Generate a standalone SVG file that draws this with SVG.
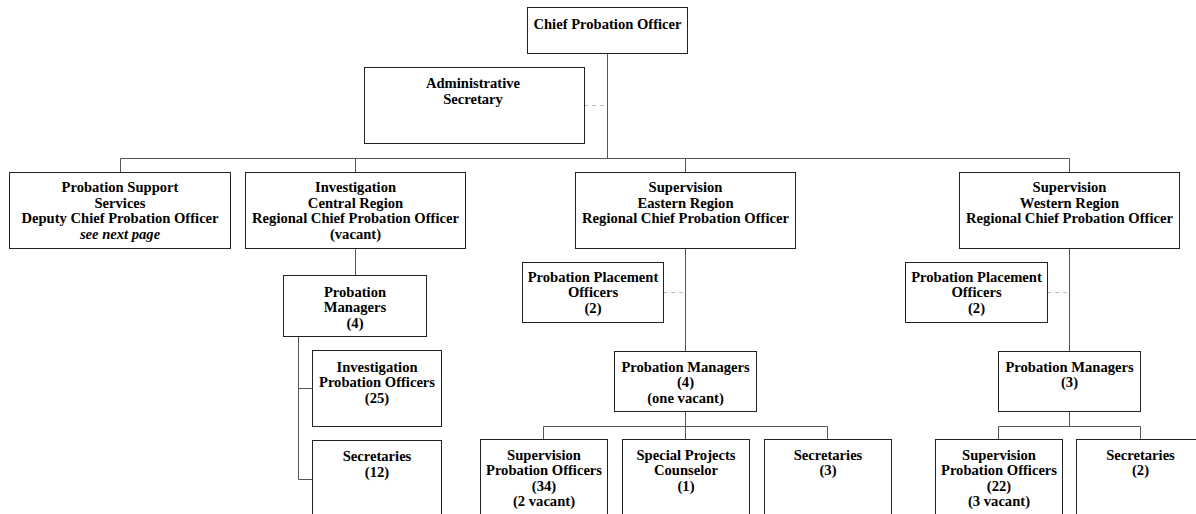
<svg xmlns="http://www.w3.org/2000/svg" width="1196" height="514" viewBox="0 0 1196 514">
  <style>
    .box { fill: #ffffff; stroke: #222222; stroke-width: 1; }
    .lbl { font-family: 'Liberation Serif', 'Times New Roman', Times, 'DejaVu Serif', serif; font-size: 14.6px; font-weight: bold; fill: #000000; text-anchor: middle; }
    .it { font-style: italic; }
    .ln { fill: none; stroke: #555555; stroke-width: 1; }
    .dash { fill: none; stroke: #bbbbbb; stroke-width: 1; stroke-dasharray: 4 4; }
  </style>
  <rect x="0" y="0" width="1196" height="514" fill="#ffffff"/>

  <!-- connectors -->
  <g id="connectors">
    <path class="ln" d="M607.5 53V158.5M120.5 158.5H1069.5M120.5 158.5V172M355.5 158.5V172M685.5 158.5V172M1069.5 158.5V172"/>
    <path class="ln" d="M355.5 248V275"/>
    <path class="ln" d="M298.5 336V479.5M298.5 388.5H312M298.5 479.5H312"/>
    <path class="ln" d="M685.5 248V351M685.5 411V426.5M543.5 426.5H827.5M543.5 426.5V439M685.5 426.5V439M827.5 426.5V439"/>
    <path class="ln" d="M1069.5 248V351M1069.5 411V426.5M998.5 426.5H1140.5M998.5 426.5V439M1140.5 426.5V439"/>
    <path class="dash" d="M584 105.5H607M663 292.5H685M1047 292.5H1069"/>
  </g>

  <g id="chief">
    <rect class="box" x="527.5" y="7.5" width="160" height="46"/>
    <text class="lbl" x="607.5" y="29">Chief Probation Officer</text>
  </g>

  <g id="admin-secretary">
    <rect class="box" x="364.5" y="67.5" width="220" height="76"/>
    <text class="lbl" x="473" y="88">Administrative</text>
    <text class="lbl" x="473" y="104">Secretary</text>
  </g>

  <g id="support-services">
    <rect class="box" x="9.5" y="172.5" width="221" height="76"/>
    <text class="lbl" x="120" y="192">Probation Support</text>
    <text class="lbl" x="120" y="207.5">Services</text>
    <text class="lbl" x="120" y="223">Deputy Chief Probation Officer</text>
    <text class="lbl it" x="120" y="238.5">see next page</text>
  </g>

  <g id="investigation-central">
    <rect class="box" x="245.5" y="172.5" width="220" height="76"/>
    <text class="lbl" x="355.5" y="192">Investigation</text>
    <text class="lbl" x="355.5" y="207.5">Central Region</text>
    <text class="lbl" x="355.5" y="223">Regional Chief Probation Officer</text>
    <text class="lbl" x="355.5" y="238.5">(vacant)</text>
  </g>

  <g id="supervision-eastern">
    <rect class="box" x="575.5" y="172.5" width="220" height="76"/>
    <text class="lbl" x="685.5" y="192">Supervision</text>
    <text class="lbl" x="685.5" y="207.5">Eastern Region</text>
    <text class="lbl" x="685.5" y="223">Regional Chief Probation Officer</text>
  </g>

  <g id="supervision-western">
    <rect class="box" x="959.5" y="172.5" width="220" height="76"/>
    <text class="lbl" x="1069.5" y="192">Supervision</text>
    <text class="lbl" x="1069.5" y="207.5">Western Region</text>
    <text class="lbl" x="1069.5" y="223">Regional Chief Probation Officer</text>
  </g>

  <g id="inv-managers">
    <rect class="box" x="283.5" y="275.5" width="143" height="61"/>
    <text class="lbl" x="355" y="297">Probation</text>
    <text class="lbl" x="355" y="312">Managers</text>
    <text class="lbl" x="355" y="327.5">(4)</text>
  </g>

  <g id="inv-officers">
    <rect class="box" x="312.5" y="350.5" width="129" height="76"/>
    <text class="lbl" x="377" y="372">Investigation</text>
    <text class="lbl" x="377" y="387">Probation Officers</text>
    <text class="lbl" x="377" y="402.5">(25)</text>
  </g>

  <g id="inv-secretaries">
    <rect class="box" x="312.5" y="440.5" width="129" height="90"/>
    <text class="lbl" x="377" y="461">Secretaries</text>
    <text class="lbl" x="377" y="476.5">(12)</text>
  </g>

  <g id="east-placement">
    <rect class="box" x="522.5" y="262.5" width="141" height="60"/>
    <text class="lbl" x="593" y="282">Probation Placement</text>
    <text class="lbl" x="593" y="297">Officers</text>
    <text class="lbl" x="593" y="312.5">(2)</text>
  </g>

  <g id="east-managers">
    <rect class="box" x="614.5" y="351.5" width="142" height="60"/>
    <text class="lbl" x="685.5" y="372">Probation Managers</text>
    <text class="lbl" x="685.5" y="387">(4)</text>
    <text class="lbl" x="685.5" y="402.5">(one vacant)</text>
  </g>

  <g id="east-officers">
    <rect class="box" x="480.5" y="439.5" width="127" height="90"/>
    <text class="lbl" x="544" y="460">Supervision</text>
    <text class="lbl" x="544" y="475">Probation Officers</text>
    <text class="lbl" x="544" y="491">(34)</text>
    <text class="lbl" x="544" y="506">(2 vacant)</text>
  </g>

  <g id="east-special-projects">
    <rect class="box" x="622.5" y="439.5" width="127" height="90"/>
    <text class="lbl" x="686" y="460">Special Projects</text>
    <text class="lbl" x="686" y="475">Counselor</text>
    <text class="lbl" x="686" y="491">(1)</text>
  </g>

  <g id="east-secretaries">
    <rect class="box" x="764.5" y="439.5" width="127" height="90"/>
    <text class="lbl" x="828" y="460">Secretaries</text>
    <text class="lbl" x="828" y="475">(3)</text>
  </g>

  <g id="west-placement">
    <rect class="box" x="905.5" y="262.5" width="142" height="60"/>
    <text class="lbl" x="976.5" y="282">Probation Placement</text>
    <text class="lbl" x="976.5" y="297">Officers</text>
    <text class="lbl" x="976.5" y="312.5">(2)</text>
  </g>

  <g id="west-managers">
    <rect class="box" x="998.5" y="351.5" width="142" height="60"/>
    <text class="lbl" x="1069.5" y="372">Probation Managers</text>
    <text class="lbl" x="1069.5" y="387">(3)</text>
  </g>

  <g id="west-officers">
    <rect class="box" x="935.5" y="439.5" width="127" height="90"/>
    <text class="lbl" x="999" y="460">Supervision</text>
    <text class="lbl" x="999" y="475">Probation Officers</text>
    <text class="lbl" x="999" y="491">(22)</text>
    <text class="lbl" x="999" y="506">(3 vacant)</text>
  </g>

  <g id="west-secretaries">
    <rect class="box" x="1076.5" y="439.5" width="128" height="90"/>
    <text class="lbl" x="1140.5" y="460">Secretaries</text>
    <text class="lbl" x="1140.5" y="475">(2)</text>
  </g>
</svg>
